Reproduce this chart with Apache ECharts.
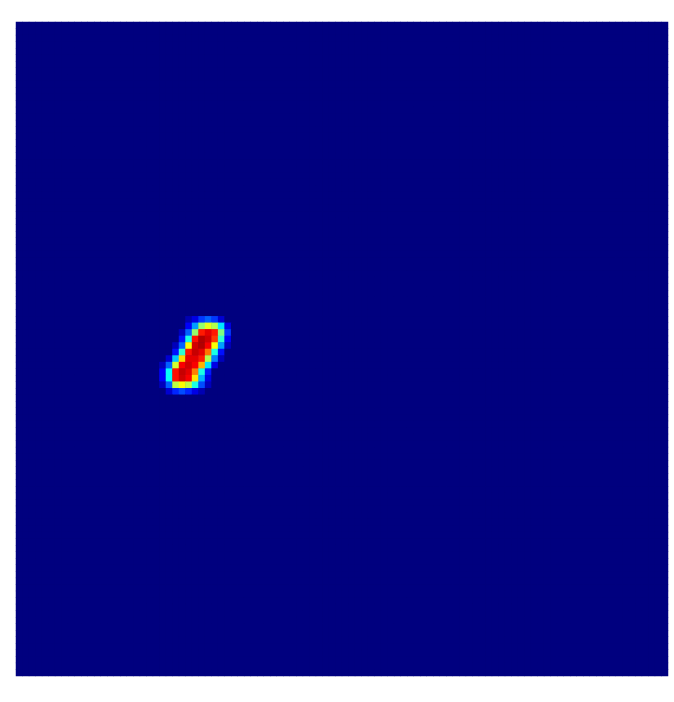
<!DOCTYPE html>
<html>
<head>
<meta charset="utf-8">
<script src="https://cdn.jsdelivr.net/npm/echarts@6/dist/echarts.min.js"></script>
<style>
    html, body { margin: 0; padding: 0; background: #ffffff; }
    #heatChart { width: 674px; height: 702px; }
</style>
</head>
<body>
<div id="heatChart"></div>
<script>
// grid of 100 x 100 cells, everything outside the blob block is 0
const gridSize = 100;
const blobStartCol = 22;
const blobStartRow = 45;
// rows 45..56, columns 22..33
const blobValues = [
    [0.00, 0.00, 0.00, 0.00, 0.05, 0.10, 0.18, 0.22, 0.18, 0.08, 0.00, 0.00],
    [0.00, 0.00, 0.00, 0.00, 0.12, 0.28, 0.52, 0.60, 0.55, 0.35, 0.10, 0.00],
    [0.00, 0.00, 0.00, 0.06, 0.22, 0.52, 0.85, 0.90, 0.85, 0.50, 0.18, 0.00],
    [0.00, 0.00, 0.00, 0.14, 0.40, 0.86, 0.95, 0.92, 0.82, 0.42, 0.12, 0.00],
    [0.00, 0.00, 0.06, 0.22, 0.62, 0.92, 0.95, 0.88, 0.62, 0.28, 0.06, 0.00],
    [0.00, 0.00, 0.14, 0.42, 0.86, 0.93, 0.90, 0.76, 0.40, 0.14, 0.00, 0.00],
    [0.00, 0.08, 0.32, 0.66, 0.90, 0.90, 0.85, 0.55, 0.25, 0.06, 0.00, 0.00],
    [0.06, 0.22, 0.58, 0.88, 0.92, 0.88, 0.70, 0.35, 0.10, 0.00, 0.00, 0.00],
    [0.12, 0.38, 0.86, 0.93, 0.90, 0.75, 0.40, 0.15, 0.00, 0.00, 0.00, 0.00],
    [0.12, 0.38, 0.86, 0.92, 0.88, 0.65, 0.30, 0.10, 0.00, 0.00, 0.00, 0.00],
    [0.06, 0.22, 0.56, 0.62, 0.56, 0.40, 0.20, 0.06, 0.00, 0.00, 0.00, 0.00],
    [0.00, 0.08, 0.16, 0.20, 0.16, 0.10, 0.05, 0.00, 0.00, 0.00, 0.00, 0.00]
];
const jetColors = ['#00007f', '#0000ff', '#007fff', '#00ffff', '#7fff7f',
    '#ffff00', '#ff7f00', '#ff0000', '#7f0000'];

let categories = [];
for (let i = 0; i < gridSize; i++) {
    categories.push(i);
}

// whole field, zeros outside the blob block
let heatData = [];
for (let row = 0; row < gridSize; row++) {
    for (let col = 0; col < gridSize; col++) {
        let r = row - blobStartRow;
        let c = col - blobStartCol;
        let v = 0;
        if (r >= 0 && r < blobValues.length && c >= 0 && c < blobValues[r].length) {
            v = blobValues[r][c];
        }
        heatData.push([col, row, v]);
    }
}

let heatOption = {
    animation: false,
    grid: {
        left: 16,
        top: 22,
        width: 652,
        height: 654,
        show: true,
        backgroundColor: '#00007f',
        borderWidth: 0
    },
    xAxis: {
        type: 'category',
        data: categories,
        show: false
    },
    yAxis: {
        type: 'category',
        data: categories,
        inverse: true,
        show: false
    },
    visualMap: {
        show: false,
        min: 0,
        max: 1,
        inRange: { color: jetColors }
    },
    series: [
        {
            type: 'heatmap',
            data: heatData,
            itemStyle: { borderWidth: 0 },
            emphasis: { disabled: true }
        }
    ]
};
let heatChart = echarts.init(document.getElementById('heatChart'));
heatChart.setOption(heatOption);
</script>
</body>
</html>
